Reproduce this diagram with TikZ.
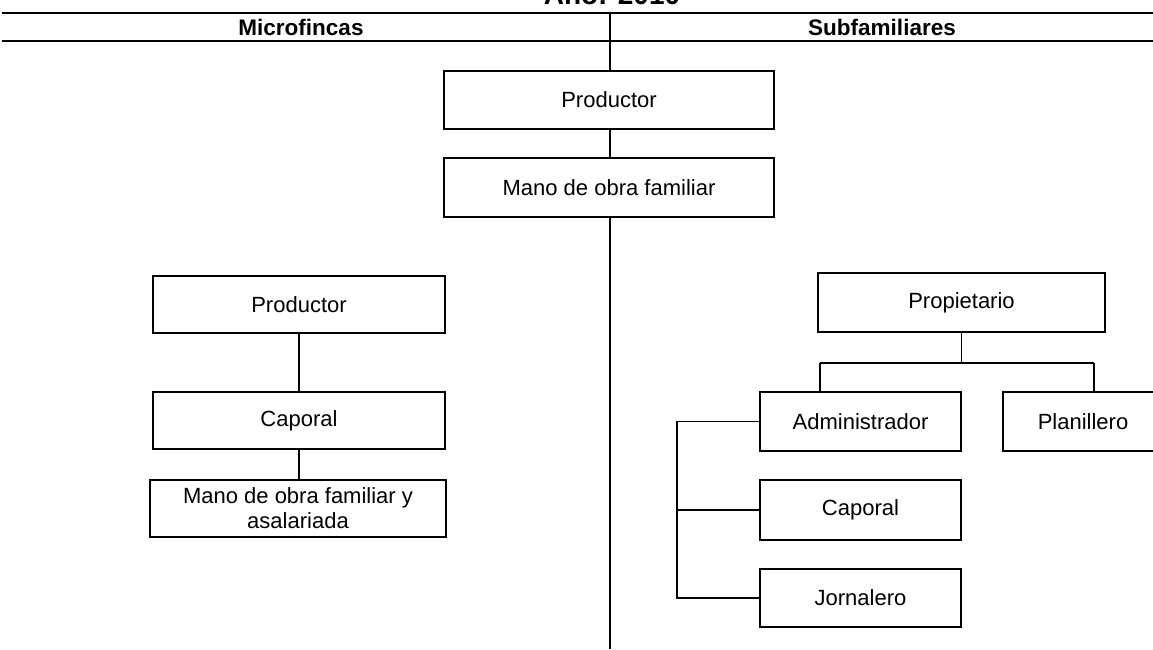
\documentclass[tikz,border=0pt]{standalone}
\usepackage{fontspec}
\setmainfont{Liberation Sans}
\begin{document}
\begin{tikzpicture}[x=1pt,y=-1pt,
  box/.style={draw,line width=1.6pt,fill=white,inner sep=0pt,align=center,font=\fontsize{22}{25}\selectfont},
  link/.style={line width=1.6pt},
  rule/.style={line width=2.4pt},
  head/.style={font=\bfseries\fontsize{22.5}{25}\selectfont}]
\useasboundingbox (0,0) rectangle (1153,649);
\fill[white] (0,0) rectangle (1153,649);
% title (cut at top)
\node[anchor=base,font=\bfseries\fontsize{28}{30}\selectfont] (title) at (612,4) {Año: 2010};
% rules
\coordinate (r1a) at (2,13); \coordinate (r1b) at (1153,13);
\coordinate (r2a) at (2,41); \coordinate (r2b) at (1153,41);
\draw[rule] (r1a) -- (r1b);
\draw[rule] (r2a) -- (r2b);
\node[head] (hm) at (301,27) {Microfincas};
\node[head] (hs) at (882,27) {Subfamiliares};
% center column
\coordinate (ctop) at (610,13);
\coordinate (cbot) at (610,649);
\node[box,minimum width=330pt,minimum height=58pt] (p1) at (609,100) {Productor};
\node[box,minimum width=330pt,minimum height=59pt] (m1) at (609,187.5) {Mano de obra familiar};
\draw[link] (ctop) -- (p1.north -| ctop);
\draw[link] (p1.south -| ctop) -- (m1.north -| ctop);
\draw[link] (m1.south -| ctop) -- (cbot);
% left column
\node[box,minimum width=292pt,minimum height=57pt] (p2) at (299,304.5) {Productor};
\node[box,minimum width=292pt,minimum height=57pt] (c2) at (299,420.5) {Caporal};
\node[box,minimum width=296pt,minimum height=57pt] (m2) at (298,508.5) {Mano de obra familiar y\\asalariada};
\draw[link] (p2.south) -- (c2.north);
\draw[link] (c2.south) -- (c2.south |- m2.north);
% right column
\node[box,minimum width=287pt,minimum height=59pt] (pr) at (961.5,302.5) {Propietario};
\node[box,minimum width=201pt,minimum height=59pt] (ad) at (860.5,421.5) {Administrador};
\node[box,minimum width=160pt,minimum height=59pt] (pl) at (1083,421.5) {Planillero};
\node[box,minimum width=201pt,minimum height=60pt] (c3) at (860.5,510) {Caporal};
\node[box,minimum width=201pt,minimum height=58pt] (jo) at (860.5,598) {Jornalero};
\coordinate (hL) at (820,363);
\coordinate (hR) at (1094,363);
\draw[link] (hL) -- (hR);
\draw[link] (pr.south) -- (pr.south |- hL);
\draw[link] (hL) -- (hL |- ad.north);
\draw[link] (hR) -- (hR |- pl.north);
\coordinate (bx) at (677,0);
\draw[link] (ad.west) -- (ad.west -| bx) -- (jo.west -| bx) -- (jo.west);
\draw[link] (c3.west) -- (c3.west -| bx);
\end{tikzpicture}
\end{document}
